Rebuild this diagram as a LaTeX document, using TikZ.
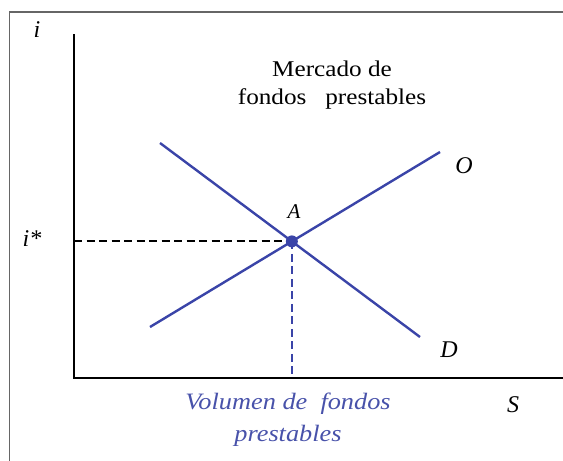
\documentclass[tikz,border=0pt]{standalone}
\usepackage{fontspec}
\setmainfont{Liberation Serif}
\newfontfamily\widefont[FakeStretch=1.12]{Liberation Serif}
\definecolor{curveblue}{RGB}{58,68,168}
\definecolor{textblue}{RGB}{72,82,170}
\tikzset{
  curve/.style={curveblue, line width=2.4pt},
  axis/.style={black, line width=2.4pt},
  guide/.style={line width=1.8pt, dash pattern=on 8pt off 4.5pt},
  lbl/.style={anchor=base, font=\fontsize{24}{24}\selectfont\itshape, inner sep=0pt},
  blurb/.style={anchor=base, align=center, inner sep=0pt}
}
\begin{document}
\begin{tikzpicture}[x=1pt, y=-1pt]
	\useasboundingbox (0,0) rectangle (563,461);
	% frame
	\draw[gray!80!black, line width=1.5pt] (9.5,461) -- (9.5,12) -- (563,12);

	% axes
	\coordinate (origin) at (74,378);
	\coordinate (ytop) at (74,34);
	\coordinate (xend) at (563,378);
	\draw[axis] (ytop) -- (origin) -- (xend);

	% supply and demand
	\coordinate (O1) at (150,327);
	\coordinate (O2) at (440,152);
	\coordinate (D1) at (160,143);
	\coordinate (D2) at (420,337);
	\draw[curve] (O1) -- (O2);
	\draw[curve] (D1) -- (D2);

	% equilibrium
	\coordinate (eq) at (intersection of O1--O2 and D1--D2);
	\coordinate (eqy) at (origin |- eq);
	\coordinate (eqx) at (eq |- origin);
	\draw[guide, black] (eqy) -- (eq);
	\draw[guide, curveblue] (eq) -- (eqx);
	\fill[curveblue] (eq) circle (6pt);

	\node[lbl] (ilbl) at (37,37) {i};
	\node[lbl] (istar) at (32,246) {i*};
	\node[lbl, font=\fontsize{21}{21}\selectfont\itshape] (albl) at (294,218) {A};
	\node[lbl] (olbl) at (464,173) {O};
	\node[lbl] (dlbl) at (449,357) {D};
	\node[lbl] (slbl) at (513,412) {S};

	\node[blurb, font=\widefont\fontsize{22.5}{28}\selectfont] (title) at (332,104)
		{Mercado de\\fondos\ \ \ prestables};
	\node[blurb, text=textblue, font=\widefont\fontsize{23.5}{32}\selectfont\itshape] (vol) at (288,441)
		{Volumen de\ \ fondos\\prestables};
\end{tikzpicture}
\end{document}
